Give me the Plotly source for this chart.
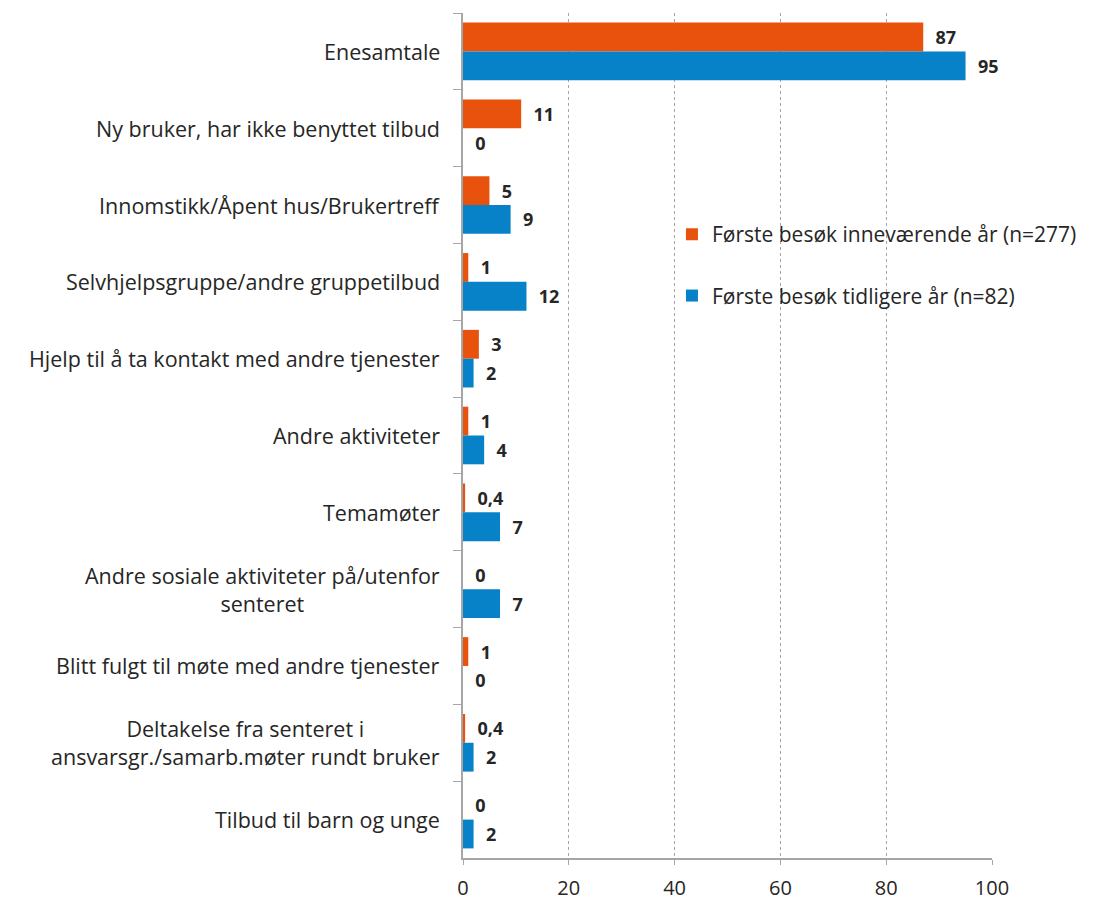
import plotly.graph_objects as go

categories = [
    "Enesamtale",
    "Ny bruker, har ikke benyttet tilbud",
    "Innomstikk/Åpent hus/Brukertreff",
    "Selvhjelpsgruppe/andre gruppetilbud",
    "Hjelp til å ta kontakt med andre tjenester",
    "Andre aktiviteter",
    "Temamøter",
    "Andre sosiale aktiviteter på/utenfor<br>senteret",
    "Blitt fulgt til møte med andre tjenester",
    "Deltakelse fra senteret i<br>ansvarsgr./samarb.møter rundt bruker",
    "Tilbud til barn og unge",
]
current_year = [87, 11, 5, 1, 3, 1, 0.4, 0, 1, 0.4, 0]
earlier_years = [95, 0, 9, 12, 2, 4, 7, 7, 0, 2, 2]
series_names = [
    "Første besøk inneværende år (n=277)",
    "Første besøk tidligere år (n=82)",
]
x_ticks = [0, 20, 40, 60, 80, 100]

ORANGE = "#E8520C"
BLUE = "#0782C8"
FONT = "Open Sans"
TEXT = "#262626"


def fmt(v):
    return ("%g" % v).replace(".", ",")


fig = go.Figure()
for name, vals, color, grp in [
    (series_names[0], current_year, ORANGE, "a"),
    (series_names[1], earlier_years, BLUE, "b"),
]:
    fig.add_trace(go.Bar(
        y=categories, x=vals, orientation="h", name=name,
        legendgroup=grp,
        marker=dict(color=color, line=dict(width=0)),
        text=["\u00a0\u00a0" + fmt(v) for v in vals],
        textposition="outside", constraintext="none", cliponaxis=False,
        textfont=dict(family=FONT, size=18, color=TEXT, weight="bold"),
        hoverinfo="skip",
    ))

# category labels, centred line by line to the left of the axis
for c in categories:
    fig.add_annotation(
        x=0, xref="paper", y=c, yref="y", xanchor="right", yanchor="middle",
        xshift=-21, text=c, showarrow=False, align="center",
        font=dict(family=FONT, size=21.5, color=TEXT),
    )

fig.update_layout(
    width=1100, height=902,
    margin=dict(l=463, r=108, t=13, b=44),
    paper_bgcolor="white", plot_bgcolor="white",
    barmode="group", bargap=0.25, bargroupgap=0,
    font=dict(family=FONT, size=21, color=TEXT),
    showlegend=True,
    legend=dict(
        x=0.395, y=0.762, xanchor="left", yanchor="top",
        traceorder="grouped", tracegroupgap=31,
        font=dict(family=FONT, size=21, color=TEXT),
        bgcolor="rgba(0,0,0,0)",
    ),
    xaxis=dict(
        range=[0, 100], tickvals=x_ticks, automargin=False,
        showgrid=True, gridcolor="#A6A6A6", griddash="dot", gridwidth=1,
        showline=True, linecolor="#A6A6A6", linewidth=2,
        ticks="outside", ticklen=5, tickcolor="#A6A6A6",
        ticklabelstandoff=6, zeroline=False,
        tickfont=dict(family=FONT, size=20, color=TEXT),
        fixedrange=True,
    ),
    yaxis=dict(
        autorange="reversed", showticklabels=False, automargin=False,
        showline=True, linecolor="#A6A6A6", linewidth=2,
        ticks="outside", tickson="boundaries", ticklen=8,
        tickcolor="#A6A6A6", tickwidth=1, showgrid=False,
        fixedrange=True,
    ),
)

fig.write_html("out.html")
